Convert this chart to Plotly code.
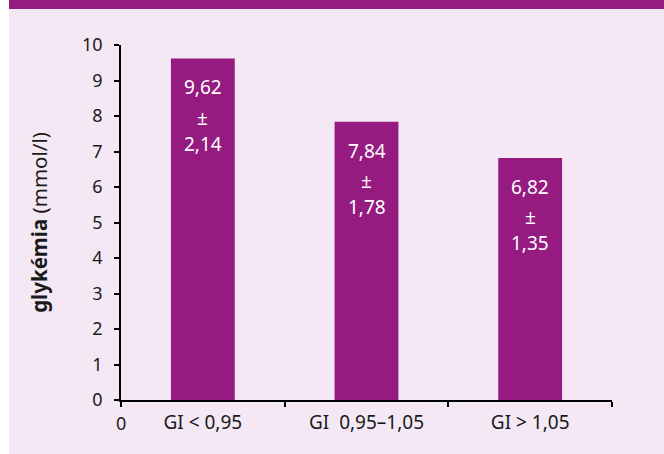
import plotly.graph_objects as go

categories = ["GI < 0,95", "GI  0,95–1,05", "GI > 1,05"]
means = [9.62, 7.84, 6.82]
sds = [2.14, 1.78, 1.35]
mean_labels = ["9,62", "7,84", "6,82"]
sd_labels = ["2,14", "1,78", "1,35"]
y_ticks = [0, 1, 2, 3, 4, 5, 6, 7, 8, 9, 10]

PURPLE = "#951B81"
BG = "#F4E8F5"
FONT = "Noto Sans"
TXT = "#1a1a1a"

fig = go.Figure()
fig.add_trace(go.Bar(
    x=categories, y=means, marker=dict(color=PURPLE, line=dict(width=0)),
    width=0.39, showlegend=False, hoverinfo="skip",
))

annotations = []
for cat, m, ml, sl in zip(categories, means, mean_labels, sd_labels):
    for txt, shift in [(ml, -29), ("±", -59.5), (sl, -85.5)]:
        annotations.append(dict(
            x=cat, y=m, xref="x", yref="y", text=txt, showarrow=False,
            yanchor="middle", yshift=shift,
            font=dict(family=FONT, size=19, color="white"),
        ))
# origin "0" label under the axis
annotations.append(dict(
    x=-0.5, y=0, xref="x", yref="y", text="0", showarrow=False,
    yanchor="middle", yshift=-23, font=dict(family=FONT, size=18, color=TXT),
))

W, H = 664, 454
L, R, T, B = 121, 52, 45, 54
pw, ph = W - L - R, H - T - B

def px_x(p):
    return (p - L) / pw

def px_y(p):
    return (H - B - p) / ph

shapes = [
    dict(type="rect", xref="paper", yref="paper", x0=px_x(0), x1=px_x(9),
         y0=px_y(H), y1=px_y(0), fillcolor="white", line=dict(width=0), layer="below"),
    dict(type="rect", xref="paper", yref="paper", x0=px_x(9), x1=px_x(W),
         y0=px_y(9), y1=px_y(0), fillcolor=PURPLE, line=dict(width=0), layer="below"),
]

fig.update_layout(
    width=W, height=H,
    margin=dict(l=L, r=R, t=T, b=B, pad=0),
    paper_bgcolor=BG, plot_bgcolor=BG,
    font=dict(family=FONT, size=18, color=TXT),
    annotations=annotations, shapes=shapes,
    xaxis=dict(
        type="category", showline=True, linecolor="#000", linewidth=1.5,
        ticks="outside", tickson="boundaries", ticklen=5, tickcolor="#000", tickwidth=1.5,
        showgrid=False, zeroline=False, range=[-0.5, 2.5],
        tickfont=dict(family=FONT, size=19, color=TXT), ticklabelstandoff=4,
    ),
    yaxis=dict(
        range=[0, 10], tickvals=y_ticks, ticktext=[str(v) for v in y_ticks],
        showline=True, linecolor="#000", linewidth=1.5,
        ticks="outside", ticklen=5, tickcolor="#000", tickwidth=1.5,
        showgrid=False, zeroline=False,
        tickfont=dict(family=FONT, size=18, color=TXT), ticklabelstandoff=8,
        title=dict(text="<b>glykémia</b> (mmol/l)",
                   font=dict(family=FONT, size=20.5, color=TXT), standoff=29),
    ),
)

fig.write_html("out.html", config={"displayModeBar": False},
               post_script="document.body.style.margin='0';")
